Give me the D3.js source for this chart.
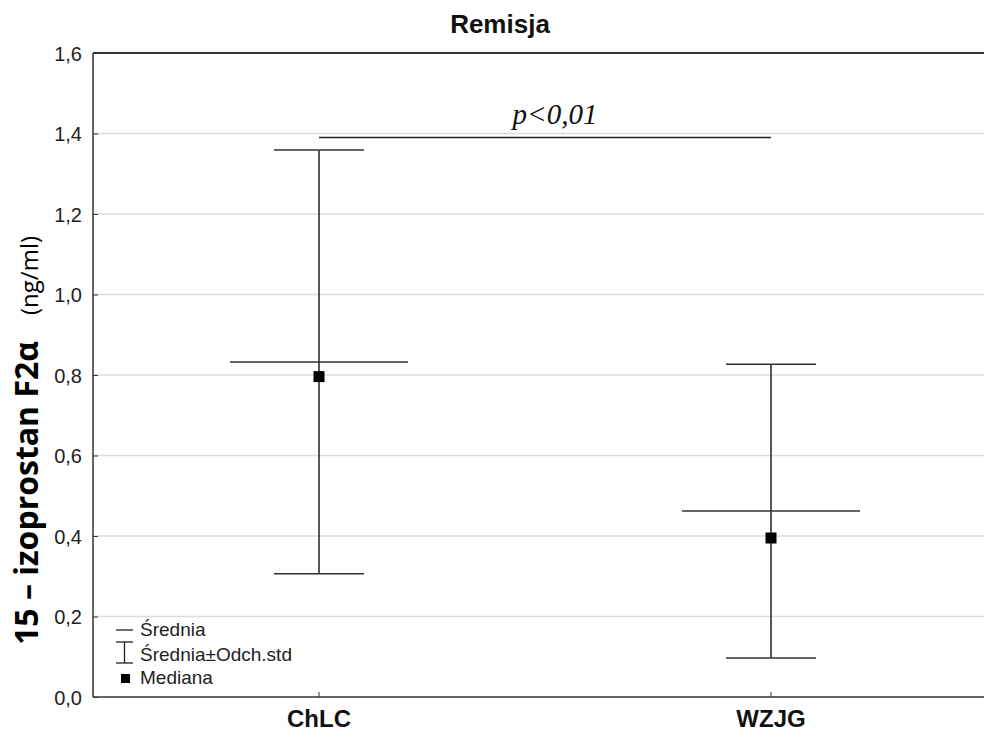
<!DOCTYPE html>
<html>
<head>
<meta charset="utf-8">
<script src="https://cdn.jsdelivr.net/npm/d3@7"></script>
<style>
  body { margin: 0; background: #fff; }
  svg { display: block; }
</style>
</head>
<body>
<div id="chart"></div>
<script>
// dane
var categories = ["ChLC", "WZJG"];
var means = [0.832, 0.462];
var medians = [0.796, 0.395];
var upper = [1.359, 0.827];
var lower = [0.306, 0.097];
var yTicks = [0.0, 0.2, 0.4, 0.6, 0.8, 1.0, 1.2, 1.4, 1.6];
var pText = "p<0,01";
var pLevel = 1.39;

var width = 984, height = 737;
var plotLeft = 93, plotTop = 53, plotBottom = 697;

var svg = d3.select("#chart").append("svg")
  .attr("width", width).attr("height", height);

var y = d3.scaleLinear().domain([0, 1.6]).range([plotBottom, plotTop]);
var x = d3.scaleBand().domain(categories).range([plotLeft, plotLeft + 904]);

function cx(d) { return x(d) + x.bandwidth() / 2; }

// siatka
svg.append("g").selectAll("line").data(yTicks.slice(1, -1)).enter()
  .append("line")
  .attr("x1", plotLeft).attr("x2", width)
  .attr("y1", function(d) { return y(d); })
  .attr("y2", function(d) { return y(d); })
  .attr("stroke", "#dcdcdc").attr("stroke-width", 1.3);

// osie
var yAxis = d3.axisLeft(y).tickValues(yTicks).tickSize(-5)
  .tickFormat(function(d) { return d3.format(".1f")(d).replace(".", ","); });
var gy = svg.append("g").attr("transform", "translate(" + plotLeft + ",0)").call(yAxis);
gy.select(".domain").remove();
gy.selectAll(".tick line").attr("stroke", "#333");
gy.selectAll("text").attr("x", -11).attr("dy", "0.35em")
  .style("font-family", "Arial, 'Liberation Sans', sans-serif")
  .style("font-size", "20px").attr("fill", "#222");

var xAxis = d3.axisBottom(x).tickSize(-5).tickPadding(13);
var gx = svg.append("g").attr("transform", "translate(0," + plotBottom + ")").call(xAxis);
gx.select(".domain").remove();
gx.selectAll(".tick line").attr("stroke", "#333");
gx.selectAll("text")
  .style("font-family", "Arial, 'Liberation Sans', sans-serif")
  .style("font-size", "24px").style("font-weight", "bold").attr("fill", "#111");

// ramka
svg.append("line").attr("x1", plotLeft).attr("x2", width).attr("y1", plotTop).attr("y2", plotTop)
  .attr("stroke", "#333").attr("stroke-width", 2);
svg.append("line").attr("x1", plotLeft).attr("x2", width).attr("y1", plotBottom).attr("y2", plotBottom)
  .attr("stroke", "#333").attr("stroke-width", 1.5);
svg.append("line").attr("x1", plotLeft).attr("x2", plotLeft).attr("y1", plotTop).attr("y2", plotBottom)
  .attr("stroke", "#333").attr("stroke-width", 1.5);

// wąsy (średnia ± odch.std)
var g = svg.append("g");
categories.forEach(function(c, i) {
  var xc = cx(c);
  g.append("line").attr("x1", xc).attr("x2", xc)
    .attr("y1", y(upper[i])).attr("y2", y(lower[i]))
    .attr("stroke", "#222").attr("stroke-width", 1.5);
  [upper[i], lower[i]].forEach(function(v) {
    g.append("line").attr("x1", xc - 45).attr("x2", xc + 45)
      .attr("y1", y(v)).attr("y2", y(v))
      .attr("stroke", "#333").attr("stroke-width", 1.5);
  });
  g.append("line").attr("x1", xc - 89).attr("x2", xc + 89)
    .attr("y1", y(means[i])).attr("y2", y(means[i]))
    .attr("stroke", "#333").attr("stroke-width", 1.5);
  g.append("rect").attr("x", xc - 5.5).attr("y", y(medians[i]) - 5.5)
    .attr("width", 11).attr("height", 11).attr("fill", "#000");
});

// istotność
svg.append("line").attr("x1", cx(categories[0])).attr("x2", cx(categories[1]))
  .attr("y1", y(pLevel)).attr("y2", y(pLevel))
  .attr("stroke", "#222").attr("stroke-width", 1.5);
svg.append("text").attr("x", 555)
  .attr("y", y(pLevel) - 14).attr("text-anchor", "middle")
  .style("font-family", "'Liberation Serif', 'Times New Roman', serif")
  .style("font-style", "italic").style("font-size", "29px").attr("fill", "#111")
  .text(pText);

// tytuł
svg.append("text").attr("x", 500).attr("y", 33).attr("text-anchor", "middle")
  .style("font-family", "Arial, 'Liberation Sans', sans-serif")
  .style("font-weight", "bold").style("font-size", "26px").attr("fill", "#111")
  .text("Remisja");

// opis osi Y
var yl = svg.append("text").attr("transform", "translate(38,645) rotate(-90)")
  .style("font-family", "'Open Sans', 'Noto Sans', sans-serif").attr("fill", "#000");
yl.append("tspan").style("font-weight", "bold").style("font-size", "32px")
  .text("15 – izoprostan F2α");
yl.append("tspan").attr("dx", 26).style("font-size", "24px").text("(ng/ml)");

// legenda
var legend = svg.append("g").attr("transform", "translate(116,630)")
  .style("font-family", "Arial, 'Liberation Sans', sans-serif").style("font-size", "19px");
legend.append("line").attr("x1", 0).attr("x2", 17).attr("y1", 0).attr("y2", 0).attr("stroke", "#222").attr("stroke-width", 1.3);
legend.append("text").attr("x", 24).attr("y", 6).text("Średnia").attr("fill", "#222");
legend.append("line").attr("x1", 8.5).attr("x2", 8.5).attr("y1", 12).attr("y2", 33).attr("stroke", "#222").attr("stroke-width", 1.3);
legend.append("line").attr("x1", 0).attr("x2", 17).attr("y1", 12).attr("y2", 12).attr("stroke", "#222").attr("stroke-width", 1.3);
legend.append("line").attr("x1", 0).attr("x2", 17).attr("y1", 33).attr("y2", 33).attr("stroke", "#222").attr("stroke-width", 1.3);
legend.append("text").attr("x", 24).attr("y", 31).text("Średnia±Odch.std").attr("fill", "#222");
legend.append("rect").attr("x", 5).attr("y", 44).attr("width", 9).attr("height", 9).attr("fill", "#000");
legend.append("text").attr("x", 24).attr("y", 54).text("Mediana").attr("fill", "#222");
</script>
</body>
</html>
